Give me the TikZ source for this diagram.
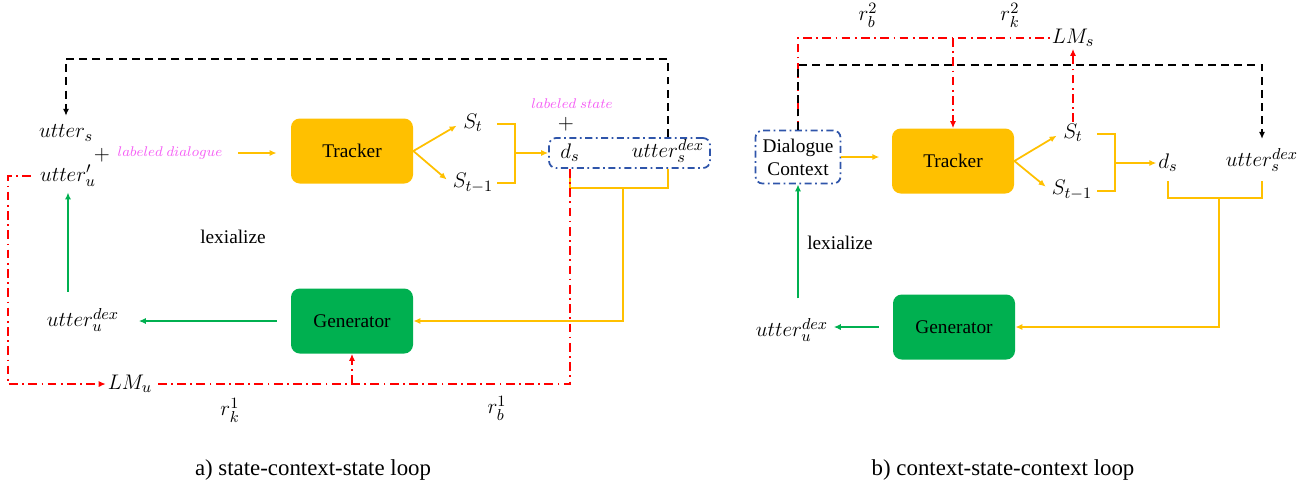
\documentclass[tikz,border=0pt]{standalone}
\usepackage{fontspec}
\setmainfont{Liberation Serif}
\usetikzlibrary{arrows.meta}
\definecolor{trkorange}{RGB}{255,192,0}
\definecolor{gengreen}{RGB}{0,176,80}
\definecolor{ctxblue}{RGB}{47,85,170}
\definecolor{lblpink}{RGB}{245,95,245}
\tikzset{
  txt/.style={font=\fontsize{11}{13}\selectfont},
  module/.style={txt,rounded corners=5pt,minimum width=2.44cm,minimum height=1.3cm},
  ctxbox/.style={draw=ctxblue,line width=1pt,rounded corners=4pt,dash pattern=on 4pt off 2pt on 1pt off 2pt},
  lbl/.style={lblpink,font=\fontsize{8.5}{10}\selectfont},
  caption/.style={font=\fontsize{13}{15}\selectfont},
  ylw/.style={trkorange,line width=1pt},
  grn/.style={gengreen,line width=1pt},
  redline/.style={red,line width=1pt,dash pattern=on 5pt off 2.5pt on 1pt off 2.5pt},
  blkline/.style={black,line width=1pt,dash pattern=on 4.5pt off 3pt},
  >={Latex[length=4pt,width=3.5pt]}
}
\begin{document}
\begin{tikzpicture}[x=0.2mm,y=-0.2mm,font=\fontsize{12.5}{15}\selectfont,inner sep=1pt]
\useasboundingbox (0,0) rectangle (1314,495);
% a) state-context-state loop
\node (us) at (66,133) {$utter_s$};
\node (plus1) at (102,155) {$+$};
\node[lbl] (ldlg) at (170,153) {$labeled\ dialogue$};
\node (uu) at (68,176) {$utter'_u$};
\node[module,fill=trkorange] (trk) at (352,151) {Tracker};
\node (st) at (473,123) {$S_t$};
\node (st1) at (473,183) {$S_{t-1}$};
\node[ctxbox,minimum width=3.22cm,minimum height=0.6cm] (dsbox) at (629.5,153) {};
\node (ds) at (570,153) {$d_s$};
\node (uds) at (668,151) {$utter_s^{dex}$};
\node (plus2) at (566,124) {$+$};
\node[lbl] (lstate) at (572,104) {$labeled\ state$};
\node[module,fill=gengreen] (gen) at (352,321) {Generator};
\node (udx) at (83,320) {$utter_u^{dex}$};
\node[txt] (lex) at (233,237) {lexialize};
\node (lmu) at (130,384) {$LM_u$};
\node (rk1) at (230,410) {$r_k^1$};
\node (rb1) at (497,408) {$r_b^1$};
\node[caption] (capa) at (313,470) {a) state-context-state loop};
\coordinate (ltop) at (0,59);
\coordinate (brk) at (515,153);
\coordinate (yl) at (623,188);
\draw[ylw,->,shorten <=8pt,shorten >=8pt] (ldlg.east) -- (ldlg.east -| trk.west);
\draw[ylw,->,shorten >=3pt] (trk.east) -- (st.west);
\draw[ylw,->,shorten >=3pt] (trk.east) -- (st1.west);
\draw[ylw] (497,124) -| (515,183) -- (497,183);
\draw[ylw,->] (brk) -- (dsbox.west);
\draw[ylw] (ds |- dsbox.south) -- (ds |- yl) -- (uds |- yl) -- (uds |- dsbox.south);
\draw[ylw,->] (yl) |- (gen.east);
\draw[blkline,->,shorten >=4pt] (uds.north |- dsbox.north) -- (uds.north |- ltop) -| (us.north);
\draw[redline,->,shorten <=4pt] (uu.west) -- (8,176) |- (lmu.west);
\draw[redline] (ds |- dsbox.south) -- (ds |- lmu.east) -- (lmu.east);
\draw[redline,->] (gen.south |- lmu) -- (gen.south);
\draw[grn,->,shorten <=8pt,shorten >=10pt] (gen.west) -- (udx.east |- gen.west);
\draw[grn,->,shorten <=8pt,shorten >=2pt] (udx.north -| uu) -- (uu.south);
% b) context-state-context loop
\node[txt,ctxbox,minimum width=1.7cm,minimum height=1.06cm,align=center] (dc) at (798,157) {Dialogue\\Context};
\node[module,fill=trkorange] (trk2) at (953,161) {Tracker};
\node (st2) at (1073,133) {$S_t$};
\node (st12) at (1072,190) {$S_{t-1}$};
\node (ds2) at (1168,163) {$d_s$};
\node (uds2) at (1262,160) {$utter_s^{dex}$};
\node (lms) at (1073,38) {$LM_s$};
\node (rb2) at (868,15) {$r_b^2$};
\node (rk2) at (1010,15) {$r_k^2$};
\node[module,fill=gengreen] (gen2) at (954,327) {Generator};
\node (udx2) at (792,330) {$utter_u^{dex}$};
\node[txt] (lex2) at (840,243) {lexialize};
\node[caption] (capb) at (1003,470) {b) context-state-context loop};
\coordinate (rtop) at (0,65);
\coordinate (brk2) at (1115,163);
\coordinate (yr) at (1219,198);
\draw[redline] (dc.north) |- (lms.west);
\draw[redline,->] (trk2.north |- lms.west) -- (trk2.north);
\draw[redline,->] (st2.north) -- (lms.south);
\draw[blkline,->,shorten >=4pt] (dc.north) -- (dc.north |- rtop) -| (uds2.north);
\draw[ylw,->,shorten >=7pt] (dc.east) -- (dc.east -| trk2.west);
\draw[ylw,->,shorten >=3pt] (trk2.east) -- (st2.west);
\draw[ylw,->,shorten >=3pt] (trk2.east) -- (st12.west);
\draw[ylw] (1097,134) -| (1115,191) -- (1097,191);
\draw[ylw,->] (brk2) -- (ds2.west);
\draw[ylw,shorten <=4pt,shorten >=4pt] (ds2.south) -- (ds2.south |- yr) -- (uds2.south |- yr) -- (uds2.south);
\draw[ylw,->] (yr) |- (gen2.east);
\draw[grn,->,shorten <=8pt,shorten >=2pt] (gen2.west) -- (udx2.east |- gen2.west);
\draw[grn,->,shorten <=10pt] (dc.south |- udx2.north) -- (dc.south);
\end{tikzpicture}
\end{document}
